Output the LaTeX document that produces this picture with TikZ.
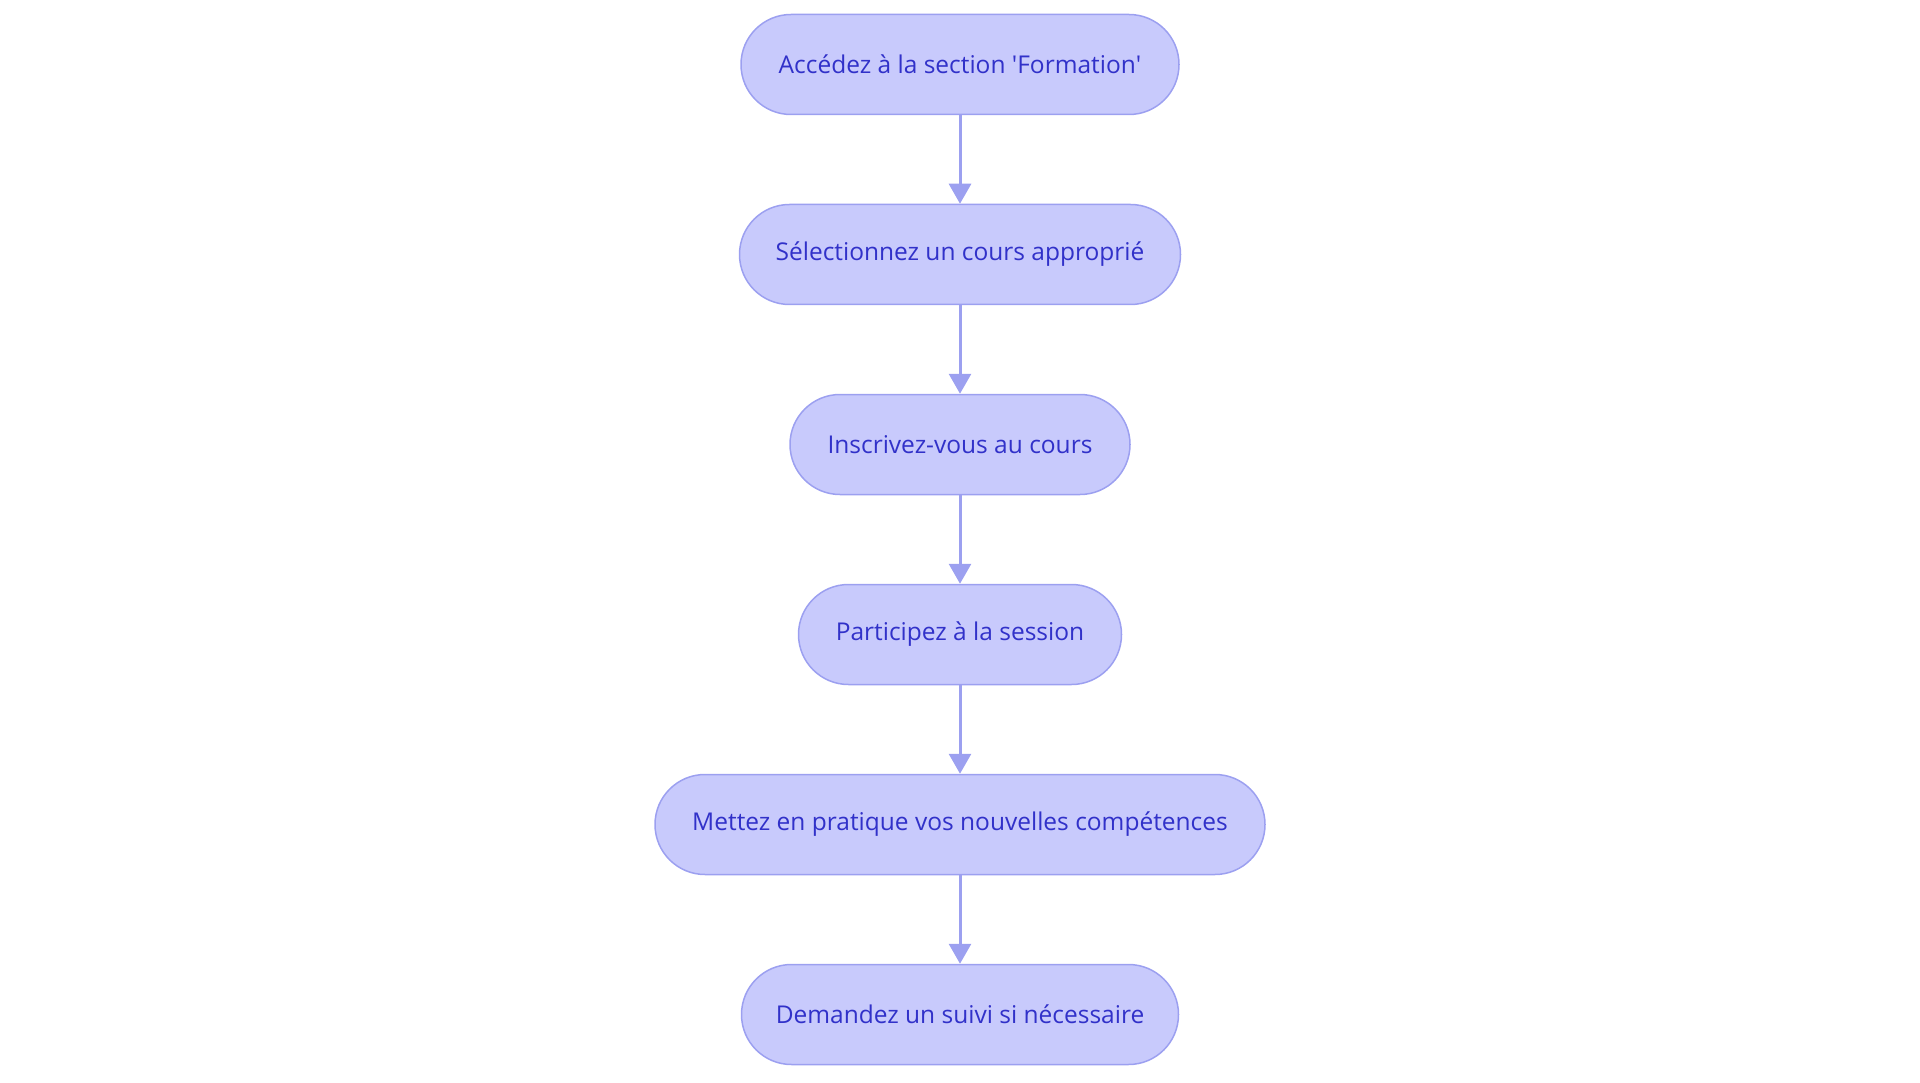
\documentclass[tikz,border=0pt]{standalone}
\usepackage{fontspec}
\setmainfont{Open Sans}
\usetikzlibrary{positioning, arrows.meta}
\definecolor{StepFill}{HTML}{C8CAFC}
\definecolor{StepLine}{HTML}{9CA0F0}
\definecolor{StepText}{HTML}{3131C9}

\begin{document}
\begin{tikzpicture}[x=1pt, y=1pt,
    stepbox/.style={draw=StepLine, line width=1.5pt, fill=StepFill, text=StepText,
        rounded corners=50pt, minimum height=100pt, inner sep=0pt,
        font=\fontsize{24.5}{28}\selectfont},
    flow/.style={StepLine, line width=3pt, -{Triangle[length=20pt, width=22pt]}}]
    \useasboundingbox (0,0) rectangle (1920,-1083);
    \node[stepbox, minimum width=438pt] (access) at (960,-64.5) {Accédez à la section \textquotesingle Formation\textquotesingle};
    \node[stepbox, minimum width=441pt, below=88.5pt of access] (select) {Sélectionnez un cours approprié};
    \node[stepbox, minimum width=340pt, below=88.5pt of select] (enrol) {Inscrivez-vous au cours};
    \node[stepbox, minimum width=323pt, below=88.5pt of enrol] (attend) {Participez à la session};
    \node[stepbox, minimum width=610pt, below=88.5pt of attend] (practice) {Mettez en pratique vos nouvelles compétences};
    \node[stepbox, minimum width=437pt, below=88.5pt of practice] (followup) {Demandez un suivi si nécessaire};
    % arrows between steps
    \foreach \a/\b in {access/select, select/enrol, enrol/attend, attend/practice, practice/followup}
        \draw[flow] (\a) -- (\b);
\end{tikzpicture}
\end{document}
